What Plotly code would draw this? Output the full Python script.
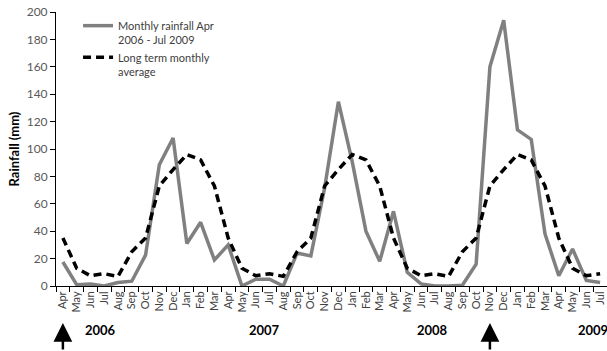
import plotly.graph_objects as go

months = ["Apr", "May", "Jun", "Jul", "Aug", "Sep", "Oct", "Nov", "Dec", "Jan", "Feb", "Mar",
          "Apr", "May", "Jun", "Jul", "Aug", "Sep", "Oct", "Nov", "Dec", "Jan", "Feb", "Mar",
          "Apr", "May", "Jun", "Jul", "Aug", "Sep", "Oct", "Nov", "Dec", "Jan", "Feb", "Mar",
          "Apr", "May", "Jun", "Jul"]

rainfall = [17.5, 1, 1.5, 0, 2.5, 3.5, 22.5, 88.5, 108, 31, 46.5, 19,
            30, 0, 5, 5, 0, 24, 22, 71.5, 134.5, 91, 40, 18,
            54.5, 10, 1.5, 0, 0, 0.5, 16, 160, 194, 114, 107, 38,
            7.5, 27, 4, 2.5]

long_term_avg = [35, 13, 7.5, 9, 7, 25, 35, 73, 85, 96, 92, 73,
                 35, 13, 7.5, 9, 7, 25, 35, 73, 85, 96, 92, 73,
                 35, 13, 7.5, 9, 7, 25, 35, 73, 85, 96, 92, 73,
                 35, 13, 7.5, 9]

years = ["2006", "2007", "2008", "2009"]
year_pos = [2.75, 14.65, 26.85, 38.5]
arrow_pos = [0, 31]

idx = list(range(len(months)))

fig = go.Figure()
fig.add_trace(go.Scatter(
    x=idx, y=rainfall, mode="lines",
    name="Monthly rainfall Apr<br>2006 - Jul 2009",
    line=dict(color="#808080", width=3.5),
))
fig.add_trace(go.Scatter(
    x=idx, y=long_term_avg, mode="lines",
    name="Long term monthly<br>average",
    line=dict(color="#000000", width=3.5, dash="8px,5px"),
))

annotations = []
for yr, xp in zip(years, year_pos):
    annotations.append(dict(
        x=xp, y=-0.16, xref="x", yref="paper", text="<b>" + yr + "</b>",
        showarrow=False, font=dict(family="Lato", size=13, color="#000000"),
        xanchor="center", yanchor="middle",
    ))
for xp in arrow_pos:
    annotations.append(dict(
        x=xp, y=-0.135, xref="x", yref="paper", text="",
        showarrow=True, ax=0, ay=30, arrowhead=2, arrowsize=1.5,
        arrowwidth=2.5, arrowcolor="#000000", standoff=0, startstandoff=0,
    ))

fig.update_layout(
    width=607, height=351,
    margin=dict(l=56, r=0, t=12, b=65, autoexpand=False),
    plot_bgcolor="white", paper_bgcolor="white",
    font=dict(family="Lato", color="#404040"),
    showlegend=True,
    legend=dict(
        x=0.04, y=1.0, xanchor="left", yanchor="top",
        bgcolor="rgba(0,0,0,0)", font=dict(family="Lato", size=11, color="#404040"),
        valign="top", tracegroupgap=0, itemwidth=30,
    ),
    xaxis=dict(
        range=[-0.5, len(months) - 0.5], automargin=False,
        tickmode="array", tickvals=idx, ticktext=months,
        tickangle=-90, ticks="", showgrid=False, zeroline=False,
        showline=True, linecolor="#000000", linewidth=1,
        tickfont=dict(family="Lato", size=11, color="#404040"),
        minor=dict(tickmode="array", tickvals=[i - 0.5 for i in range(len(months) + 1)],
                   ticks="outside", ticklen=5, tickcolor="#000000", showgrid=False),
    ),
    yaxis=dict(
        range=[0, 200], tickmode="linear", tick0=0, dtick=20, automargin=False,
        ticks="outside", ticklen=5, tickcolor="#000000",
        showgrid=False, zeroline=False,
        showline=True, linecolor="#000000", linewidth=1,
        tickfont=dict(family="Lato", size=12, color="#595959"),
        title=dict(text="<b>Rainfall (mm)</b>", font=dict(family="Lato", size=13, color="#000000"), standoff=4),
    ),
    annotations=annotations,
)

fig.write_html("out.html", config={"displayModeBar": False},
               post_script="document.body.style.margin='0';document.body.style.padding='0';")
